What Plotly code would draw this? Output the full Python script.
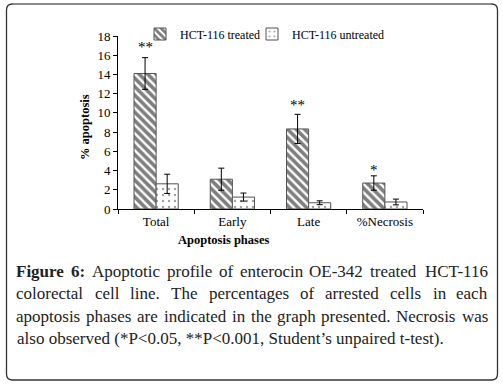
import plotly.graph_objects as go

# ---- data ----
phases = ["Total", "Early", "Late", "%Necrosis"]
treated = [14.1, 3.1, 8.33, 2.7]
treated_err = [1.65, 1.15, 1.52, 0.75]
untreated = [2.62, 1.24, 0.65, 0.73]
untreated_err = [1.0, 0.42, 0.2, 0.3]
sig_labels = ["**", "", "**", "*"]
sig_y = [16.9, 0, 10.85, 4.1]
y_ticks = [0, 2, 4, 6, 8, 10, 12, 14, 16, 18]

caption_lines = [
    "Figure 6: Apoptotic profile of enterocin OE-342 treated HCT-116",
    "colorectal cell line. The percentages of arrested cells in each",
    "apoptosis phases are indicated in the graph presented. Necrosis was",
    "also observed (*P<0.05, **P<0.001, Student\u2019s unpaired t-test).",
]

W, H = 503, 387
ML, MR, MT, MB = 118, 80, 36, 178
PW, PH = W - ML - MR, H - MT - MB


def px(x):
    return (x - ML) / PW


def py(y):
    return 1 - (y - MT) / PH


SERIF = "Liberation Serif"

fig = go.Figure()
fig.add_trace(go.Bar(
    name="HCT-116 treated", x=phases, y=treated, legend="legend",
    error_y=dict(type="data", array=treated_err, color="black", thickness=1, width=3),
    marker=dict(color="white", line=dict(color="#555555", width=1),
                pattern=dict(shape="\\", fgcolor="black", bgcolor="white", size=6, solidity=0.6)),
))
fig.add_trace(go.Bar(
    name="HCT-116 untreated", x=phases, y=untreated, legend="legend2",
    error_y=dict(type="data", array=untreated_err, color="black", thickness=1, width=3),
    marker=dict(color="white", line=dict(color="#555555", width=1),
                pattern=dict(shape=".", fgcolor="#444444", bgcolor="white", size=6, solidity=0.12)),
))

annotations = []
for ph, lab, yv in zip(phases, sig_labels, sig_y):
    if lab:
        annotations.append(dict(x=ph, y=yv, xref="x", yref="y", text=lab, showarrow=False,
                                xanchor="center", yanchor="middle",
                                xshift=-11, font=dict(family=SERIF, size=15, color="black")))

# axis titles
annotations.append(dict(x=px(223), y=py(240), xref="paper", yref="paper", text="<b>Apoptosis phases</b>",
                        xanchor="center", yanchor="middle",
                        showarrow=False, font=dict(family=SERIF, size=12.5, color="black")))
annotations.append(dict(x=px(85), y=py(127), xref="paper", yref="paper", text="<b>% apoptosis</b>",
                        xanchor="center", yanchor="middle",
                        textangle=-90, showarrow=False, font=dict(family=SERIF, size=12.5, color="black")))

# ---- caption (justified using Times metrics) ----
TR = {' ': 250, '(': 333, ')': 333, '*': 500, ',': 250, '-': 333, '.': 250, ':': 278, '<': 564,
      '\u2019': 333, '%': 833}
for d in "0123456789":
    TR[d] = 500
TR.update(dict(A=722, B=667, C=667, D=722, E=611, F=556, G=722, H=722, I=333, J=389, K=722, L=611, M=889,
               N=722, O=722, P=556, Q=722, R=667, S=556, T=611, U=722, V=722, W=944, X=722, Y=722, Z=611,
               a=444, b=500, c=444, d=500, e=444, f=333, g=500, h=500, i=278, j=278, k=500, l=278, m=778,
               n=500, o=500, p=500, q=500, r=333, s=389, t=278, u=500, v=500, w=722, x=500, y=500, z=444))
TB = dict(TR)
TB.update({'F': 611, 'u': 556, 'r': 444, ':': 333})

CAP_SIZE = 17
CAP_L, CAP_R = 16.5, 488
cap_y = [271, 293.5, 316, 338.5]


def wwidth(word, bold=False):
    tab = TB if bold else TR
    return sum(tab.get(ch, 500) for ch in word) / 1000 * CAP_SIZE


for li, line in enumerate(caption_lines):
    yy = py(cap_y[li])
    if li == len(caption_lines) - 1:
        annotations.append(dict(x=px(CAP_L), y=yy, xref="paper", yref="paper", text=line, showarrow=False,
                                xanchor="left", yanchor="middle", borderpad=0, borderwidth=0,
                                font=dict(family=SERIF, size=CAP_SIZE, color="#222222")))
        continue
    words = line.split(" ")
    bolds = [li == 0 and k < 2 for k in range(len(words))]
    widths = [wwidth(w, b) for w, b in zip(words, bolds)]
    gap = (CAP_R - CAP_L - sum(widths)) / (len(words) - 1)
    xcur = CAP_L
    for k, (w, b, wd) in enumerate(zip(words, bolds, widths)):
        last = k == len(words) - 1
        annotations.append(dict(x=px(CAP_R if last else xcur), y=yy, xref="paper", yref="paper",
                                text=f"<b>{w}</b>" if b else w, showarrow=False,
                                xanchor="right" if last else "left", yanchor="middle",
                                borderpad=0, borderwidth=0,
                                font=dict(family=SERIF, size=CAP_SIZE, color="#222222")))
        xcur += wd + gap

# ---- rounded border ----
x0, x1, y0, y1, r = 6.5, 497.5, 4, 380, 6
rx, ry = r / PW, r / PH
path = (f"M {px(x0)+rx},{py(y0)} L {px(x1)-rx},{py(y0)} Q {px(x1)},{py(y0)} {px(x1)},{py(y0)-ry} "
        f"L {px(x1)},{py(y1)+ry} Q {px(x1)},{py(y1)} {px(x1)-rx},{py(y1)} "
        f"L {px(x0)+rx},{py(y1)} Q {px(x0)},{py(y1)} {px(x0)},{py(y1)+ry} "
        f"L {px(x0)},{py(y0)-ry} Q {px(x0)},{py(y0)} {px(x0)+rx},{py(y0)} Z")
shapes = [
    dict(type="path", path=path, xref="paper", yref="paper", line=dict(color="#333333", width=1.3)),
    dict(type="line", xref="paper", yref="paper", x0=px(x0 + r), x1=px(x1 - r), y0=py(y0), y1=py(y0),
         line=dict(color="#999999", width=1.5)),
]

legend_common = dict(orientation="h", xref="container", yref="container", xanchor="left", yanchor="middle",
                     font=dict(family=SERIF, size=12, color="black"), bgcolor="rgba(0,0,0,0)",
                     itemclick=False)

fig.update_layout(
    width=W, height=H,
    margin=dict(l=ML, r=MR, t=MT, b=MB, autoexpand=False),
    paper_bgcolor="white", plot_bgcolor="white",
    barmode="group", bargap=0.42, bargroupgap=0,
    font=dict(family=SERIF, size=13, color="black"),
    showlegend=True,
    legend=dict(x=140 / W, y=1 - 34 / H, **legend_common),
    legend2=dict(x=252 / W, y=1 - 34 / H, **legend_common),
    xaxis=dict(showline=True, linecolor="black", linewidth=1, ticks="outside", tickson="boundaries",
               ticklen=4, tickcolor="black", showgrid=False, zeroline=False, automargin=False,
               tickfont=dict(family=SERIF, size=13, color="black")),
    yaxis=dict(range=[0, 18], tickvals=y_ticks, showline=True, linecolor="black", linewidth=1,
               ticks="outside", ticklen=4, tickcolor="black", showgrid=False, zeroline=False,
               automargin=False, tickfont=dict(family=SERIF, size=13, color="black")),
    annotations=annotations,
    shapes=shapes,
)

fig.write_html("out.html", config={"displayModeBar": False},
               post_script="document.body.style.margin='0px';")
